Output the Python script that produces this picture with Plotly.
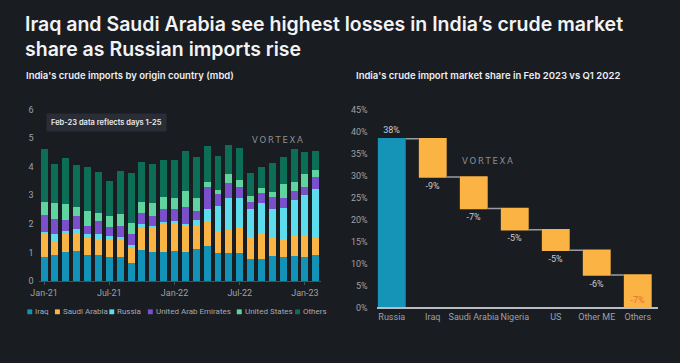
import plotly.graph_objects as go

W, H = 680, 363
BG = "#191c21"

# ---------------- data: left chart (mbd) ----------------
months = ["Jan-21", "Feb-21", "Mar-21", "Apr-21", "May-21", "Jun-21", "Jul-21", "Aug-21", "Sep-21",
          "Oct-21", "Nov-21", "Dec-21", "Jan-22", "Feb-22", "Mar-22", "Apr-22", "May-22", "Jun-22",
          "Jul-22", "Aug-22", "Sep-22", "Oct-22", "Nov-22", "Dec-22", "Jan-23", "Feb-23"]
tick_months = ["Jan-21", "Jul-21", "Jan-22", "Jul-22", "Jan-23"]

iraq = [0.85, 0.89, 1.02, 1.05, 0.90, 0.91, 0.82, 0.82, 0.63, 1.09, 1.01, 1.02, 1.05,
        1.02, 1.11, 1.24, 0.97, 0.98, 0.97, 0.78, 0.78, 0.86, 0.82, 0.86, 0.84, 0.90]
saudi = [0.79, 0.47, 0.62, 0.64, 0.59, 0.56, 0.65, 0.60, 0.51, 0.77, 0.83, 0.97, 0.97,
         0.95, 0.86, 0.85, 0.77, 0.82, 0.87, 0.77, 0.90, 0.65, 0.65, 0.73, 0.74, 0.62]
russia = [0.09, 0.27, 0.11, 0.13, 0.16, 0.19, 0.10, 0.13, 0.13, 0.15, 0.07, 0.07, 0.09,
          0.02, 0.16, 0.42, 0.87, 1.12, 1.05, 0.96, 1.04, 1.02, 1.08, 1.25, 1.44, 1.71]
uae = [0.59, 0.53, 0.40, 0.45, 0.28, 0.45, 0.31, 0.37, 0.38, 0.37, 0.37, 0.45, 0.40,
       0.59, 0.32, 0.79, 0.44, 0.50, 0.41, 0.27, 0.36, 0.41, 0.37, 0.31, 0.28, 0.40]
us = [0.45, 0.56, 0.53, 0.31, 0.51, 0.27, 0.40, 0.41, 0.38, 0.37, 0.45, 0.43, 0.39,
      0.58, 0.44, 0.18, 0.14, 0.32, 0.23, 0.21, 0.18, 0.17, 0.46, 0.30, 0.43, 0.26]
others = [1.84, 1.38, 1.63, 1.50, 1.57, 1.45, 1.22, 1.53, 1.74, 1.41, 1.36, 1.31, 1.35,
          1.39, 1.46, 1.24, 1.20, 1.02, 1.14, 0.78, 0.75, 1.04, 0.95, 1.16, 0.79, 0.66]

series_names = ["Iraq", "Saudi Arabia", "Russia", "United Arab Emirates", "United States", "Others"]
series_values = [iraq, saudi, russia, uae, us, others]
series_colors = ["#1192b6", "#f9b443", "#5cdcec", "#7a4fcc", "#5fd49e", "#0c6e56"]

# ---------------- data: right chart (market share change, %) ----------------
wf_cats = ["Russia", "Iraq", "Saudi Arabia", "Nigeria", "US", "Other ME", "Others"]
wf_vals = [38.4, -8.7, -7.2, -4.8, -4.7, -5.6, -7.4]

# ---------------- helpers ----------------
def px(x):
    return x / W

def py(y):
    return 1 - y / H

fig = go.Figure()

for name, vals, col in zip(series_names, series_values, series_colors):
    fig.add_trace(go.Bar(x=months, y=vals, name=name, marker=dict(color=col, line=dict(width=0)),
                         xaxis="x", yaxis="y", showlegend=False))

wf_text = [f"{round(v)}%" for v in wf_vals]
wf_pos = ["outside"] * (len(wf_vals) - 1) + ["inside"]
wf_tcol = ["#c9ccd1"] * (len(wf_vals) - 1) + ["#e0722e"]
fig.add_trace(go.Waterfall(
    x=wf_cats, y=wf_vals, measure=["absolute"] + ["relative"] * (len(wf_vals) - 1),
    text=wf_text, textposition=wf_pos, insidetextanchor="end",
    textfont=dict(color=wf_tcol, size=9, family="Roboto"),
    outsidetextfont=dict(color="#c9ccd1", size=9, family="Roboto"),
    insidetextfont=dict(color="#e0722e", size=9, family="Roboto"),
    totals=dict(marker=dict(color="#1594b8")),
    decreasing=dict(marker=dict(color="#fbb444")),
    increasing=dict(marker=dict(color="#fbb444")),
    connector=dict(line=dict(color="#9a9da3", width=1.5)),
    cliponaxis=False, width=0.68,
    xaxis="x2", yaxis="y2", showlegend=False))

tickfont = dict(family="Roboto", size=9, color="#9da1a8")
fig.update_layout(
    width=W, height=H, margin=dict(l=0, r=0, t=0, b=0),
    paper_bgcolor=BG, plot_bgcolor=BG, barmode="stack", bargap=0.36,
    xaxis=dict(domain=[px(31), px(317)], type="category", categoryorder="array", categoryarray=months,
               range=[-0.5, 25.5], tickvals=tick_months, ticktext=tick_months, showgrid=False,
               showline=True, linecolor="#4a4f57", linewidth=1, ticks="outside", ticklen=3,
               tickcolor="#4a4f57", tickfont=tickfont, zeroline=False, tickangle=0),
    yaxis=dict(domain=[py(283.7), py(107.7)], range=[0, 6], dtick=1, showgrid=False, zeroline=False,
               showline=False, tickfont=tickfont, ticklabelstandoff=4),
    xaxis2=dict(domain=[px(373), px(658)], type="category", range=[-0.37, 6.5], showgrid=False,
                showline=True, linecolor="#b9bcc2", linewidth=1.5, ticks="", tickfont=tickfont,
                anchor="y2", zeroline=False, tickangle=0),
    yaxis2=dict(domain=[py(311), py(107.7)], range=[0, 45], dtick=5, ticksuffix="%", showgrid=False,
                zeroline=False, showline=False, tickfont=tickfont, anchor="x2", ticklabelstandoff=8),
)

ann = []
title_font = dict(family="Inter", size=19.5, color="#f2f3f5", weight=600)
ann.append(dict(text="Iraq and Saudi Arabia see highest losses in India’s crude market<br>"
                     "share as Russian imports rise",
                x=px(15), y=py(32.5), xref="paper", yref="paper", xanchor="left", yanchor="middle",
                align="left", showarrow=False, font=title_font))
sub_font = dict(family="Inter", size=9.5, color="#eceef1", weight=600)
ann.append(dict(text="India's crude imports by origin country (mbd)", x=px(16), y=py(73),
                xref="paper", yref="paper", xanchor="left", yanchor="middle", showarrow=False, font=sub_font))
ann.append(dict(text="India's crude import market share in Feb 2023 vs Q1 2022", x=px(350), y=py(73),
                xref="paper", yref="paper", xanchor="left", yanchor="middle", showarrow=False, font=sub_font))
# note box
ann.append(dict(text="Feb-23 data reflects days 1-25", x=px(38), y=py(120.5),
                xref="paper", yref="paper", xanchor="left", yanchor="middle", showarrow=False,
                font=dict(family="Inter", size=7.5, color="#e8eaee", weight=600),
                bgcolor="#2a2d35", borderpad=4))
# watermarks
wm_font = dict(family="DejaVu Sans", size=8.5, color="#8b8f96")
wm = "\u2009".join("VORTEXA")
ann.append(dict(text=wm, x=px(273), y=py(139), xref="paper", yref="paper", xanchor="center",
                yanchor="middle", showarrow=False, font=wm_font))
ann.append(dict(text=wm, x=px(485), y=py(160.5), xref="paper", yref="paper", xanchor="center",
                yanchor="middle", showarrow=False, font=wm_font))

# manual legend
leg_sq_x = [22, 50, 105, 144, 234, 293]
leg_y = 315
shapes = []
for name, col, sx in zip(series_names, series_colors, leg_sq_x):
    shapes.append(dict(type="rect", xref="paper", yref="paper", x0=px(sx - 2.5), x1=px(sx + 2.5),
                       y0=py(leg_y + 3), y1=py(leg_y - 2), fillcolor=col, line=dict(width=0)))
    ann.append(dict(text=name, x=px(sx + 3.5), y=py(leg_y), xref="paper", yref="paper", xanchor="left",
                    yanchor="middle", showarrow=False, font=dict(family="Roboto", size=8, color="#a6aab1")))

fig.update_layout(annotations=ann, shapes=shapes)
fig.write_html("out.html", config={"displayModeBar": False},
               post_script="document.body.style.margin='0';document.body.style.overflow='hidden';"
                           "document.body.style.background='%s';" % BG)
